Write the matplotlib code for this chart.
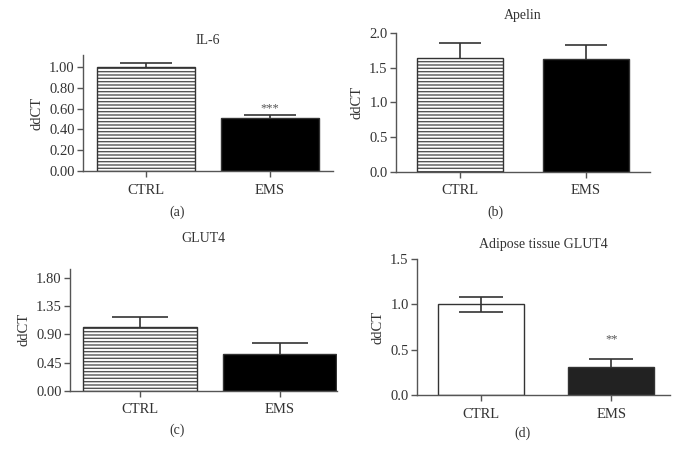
import matplotlib.pyplot as plt
import numpy as np

plt.rcParams["font.family"] = ["Liberation Serif", "DejaVu Serif"]
plt.rcParams["hatch.linewidth"] = 1.0

groups = ["CTRL", "EMS"]

il6_means = [1.00, 0.513]
il6_errs = [0.04, 0.027]

apelin_means = [1.635, 1.62]
apelin_errs = [0.215, 0.21]

glut4_means = [1.02, 0.584]
glut4_errs = [0.15, 0.18]

adipose_means = [1.00, 0.313]
adipose_errs = [0.08, 0.08]

INK = "#333333"
SPINE = "#555555"


def style_axes(ax, title, yticks, fmt, ylim, xlim, title_pad=8):
    for side in ("top", "right"):
        ax.spines[side].set_visible(False)
    for side in ("left", "bottom"):
        ax.spines[side].set_color(SPINE)
        ax.spines[side].set_linewidth(1.0)
    ax.set_xlim(*xlim)
    ax.set_ylim(*ylim)
    ax.set_yticks(yticks)
    ax.set_yticklabels([fmt.format(t) for t in yticks])
    ax.set_xticks(range(len(groups)))
    ax.set_xticklabels(groups)
    ax.tick_params(direction="out", length=4, width=1.0, color=SPINE,
                   labelsize=10.5, labelcolor=INK, pad=2)
    ax.tick_params(axis="x", pad=5)
    ax.set_title(title, fontsize=10, color=INK, pad=title_pad)
    ax.set_ylabel("ddCT", fontsize=10.5, color=INK, labelpad=4)


def draw_bars(ax, means, errs, width, capsize, ctrl_style, ems_color, ctrl_both=False):
    x = np.arange(len(groups))
    if ctrl_style == "hatch":
        ax.bar(x[0], means[0], width=width, color="white", edgecolor="#555555",
               linewidth=0, hatch="-----", zorder=2)
        ax.bar(x[0], means[0], width=width, fill=False, edgecolor=INK,
               linewidth=1.0, zorder=3)
    else:
        ax.bar(x[0], means[0], width=width, color="white", edgecolor=INK,
               linewidth=1.0, zorder=2)
    ax.bar(x[1], means[1], width=width, color=ems_color, edgecolor=INK,
           linewidth=1.0, zorder=2)
    for i in range(len(groups)):
        both = ctrl_both and i == 0
        lower = errs[i] if both else 0
        _, caps, _ = ax.errorbar(x[i], means[i], yerr=[[lower], [errs[i]]], fmt="none",
                                 ecolor=INK, elinewidth=1.2, capsize=capsize,
                                 capthick=1.2, zorder=4)
        if not both:
            caps[0].set_visible(False)


fig = plt.figure(figsize=(6.78, 4.61), dpi=100)

# (a) IL-6
ax_a = fig.add_axes([0.1224, 0.629, 0.3686, 0.252])
draw_bars(ax_a, il6_means, il6_errs, 0.79, 18.4, "hatch", "black")
style_axes(ax_a, "IL-6", [0, 0.2, 0.4, 0.6, 0.8, 1.0], "{:.2f}", (0, 1.115), (-0.51, 1.51))
ax_a.text(1, 0.60, "***", ha="center", va="center", fontsize=9, color="#555555")
fig.text(0.261, 0.54, "(a)", ha="center", va="center", fontsize=10, color=INK)

# (b) Apelin
ax_b = fig.add_axes([0.584, 0.627, 0.375, 0.302])
draw_bars(ax_b, apelin_means, apelin_errs, 0.68, 15, "hatch", "black")
style_axes(ax_b, "Apelin", [0, 0.5, 1.0, 1.5, 2.0], "{:.1f}", (0, 2.0), (-0.51, 1.51),
           title_pad=10)
fig.text(0.730, 0.54, "(b)", ha="center", va="center", fontsize=10, color=INK)

# (c) GLUT4
ax_c = fig.add_axes([0.1032, 0.152, 0.394, 0.265])
draw_bars(ax_c, glut4_means, glut4_errs, 0.81, 20.5, "hatch", "black")
style_axes(ax_c, "GLUT4", [0, 0.45, 0.90, 1.35, 1.80], "{:.2f}", (0, 1.94), (-0.50, 1.41),
           title_pad=19)
fig.text(0.261, 0.067, "(c)", ha="center", va="center", fontsize=10, color=INK)

# (d) Adipose tissue GLUT4
ax_d = fig.add_axes([0.615, 0.143, 0.373, 0.295])
draw_bars(ax_d, adipose_means, adipose_errs, 0.66, 15.8, "plain", "#222222", ctrl_both=True)
style_axes(ax_d, "Adipose tissue GLUT4", [0, 0.5, 1.0, 1.5], "{:.1f}", (0, 1.5), (-0.49, 1.45),
           title_pad=8)
ax_d.text(1, 0.61, "**", ha="center", va="center", fontsize=9, color="#555555")
fig.text(0.771, 0.061, "(d)", ha="center", va="center", fontsize=10, color=INK)

fig.savefig("out.png", dpi=100)
plt.close(fig)
